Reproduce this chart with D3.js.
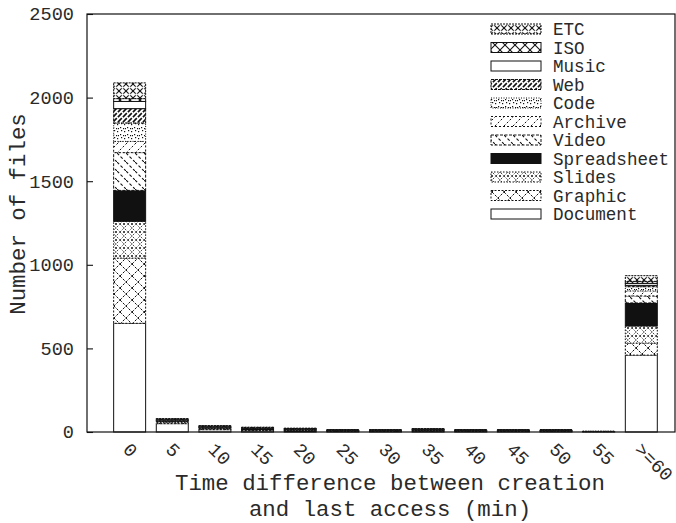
<!DOCTYPE html>
<html>
<head>
<meta charset="utf-8">
<script src="https://cdn.jsdelivr.net/npm/d3@7"></script>
<style>
html,body{margin:0;padding:0;background:#fff;}
text{font-family:"Liberation Mono","DejaVu Sans Mono",monospace;fill:#2a2a2a;}
</style>
</head>
<body>
<svg id="chart" width="676" height="523"></svg>
<script>
// ---- data ----
const buckets = ["0","5","10","15","20","25","30","35","40","45","50","55",">=60"];
const types = ["Document","Graphic","Slides","Spreadsheet","Video","Archive","Code","Web","Music","ISO","ETC"];
const Document    = [650, 50, 14, 8, 6, 4, 4, 5, 4, 4, 4, 2, 460];
const Graphic     = [390,  8,  5, 4, 3, 2, 2, 3, 2, 2, 2, 1,  72];
const Slides      = [220,  6,  4, 3, 3, 2, 2, 3, 2, 2, 2, 1, 102];
const Spreadsheet = [185,  4,  4, 3, 2, 1, 1, 2, 1, 1, 1, 0, 138];
const Video       = [226,  2,  2, 2, 2, 1, 1, 1, 1, 1, 1, 0,  42];
const Archive     = [ 67,  2,  2, 2, 1, 1, 1, 1, 1, 1, 1, 0,  30];
const Code        = [110,  3,  2, 2, 2, 1, 1, 1, 1, 1, 1, 1,  25];
const Web         = [ 86,  1,  1, 1, 1, 1, 1, 1, 1, 1, 1, 0,   8];
const Music       = [ 43,  1,  1, 1, 1, 0, 0, 1, 0, 0, 0, 0,  12];
const ISO         = [ 17,  0,  0, 0, 0, 0, 0, 0, 0, 0, 0, 0,  12];
const ETC         = [ 94,  3,  3, 3, 2, 1, 1, 2, 1, 1, 1, 0,  34];
const yTicks = [0, 500, 1000, 1500, 2000, 2500];
const series = {Document, Graphic, Slides, Spreadsheet, Video, Archive, Code, Web, Music, ISO, ETC};

// ---- layout ----
const svg = d3.select("#chart");
const L = 87, R = 675, T = 14, B = 432;
const x = d3.scaleLinear().domain([-1, 12.79]).range([L, R]);
const y = d3.scaleLinear().domain([0, 2500]).range([B, T]);
const barW = x(0.75) - x(0);

// ---- patterns ----
const defs = svg.append("defs");
function pat(id, size, draw){
  const p = defs.append("pattern").attr("id", id).attr("patternUnits","userSpaceOnUse")
    .attr("width", size).attr("height", size);
  p.append("rect").attr("width", size).attr("height", size).attr("fill", "#fff");
  draw(p, size);
}
function line(p, x1,y1,x2,y2, w, dash){
  const l = p.append("line").attr("x1",x1).attr("y1",y1).attr("x2",x2).attr("y2",y2)
    .attr("stroke","#111").attr("stroke-width",w);
  if (dash) l.attr("stroke-dasharray", dash);
}
pat("p-etc", 7, (p,s)=>{ line(p,0,0,s,s,1.1); line(p,0,s,s,0,1.1);
  p.append("circle").attr("cx",s/2).attr("cy",s/2).attr("r",1.2).attr("fill","#fff"); });
pat("p-iso", 10, (p,s)=>{ line(p,0,0,s,s,1.1); line(p,0,s,s,0,1.1); });
pat("p-web", 5, (p,s)=>{ line(p,-1,s+1,s+1,-1,1.6,"4,1.5"); line(p,-1,1,1,-1,1.6); line(p,s-1,s+1,s+1,s-1,1.6); });
pat("p-code", 7, (p,s)=>{
  [[1,1],[4,2],[2,4],[5,5],[6,2]].forEach(d=>p.append("rect").attr("x",d[0]).attr("y",d[1]).attr("width",1.2).attr("height",1.2).attr("fill","#111"));
});
pat("p-archive", 9, (p,s)=>{ line(p,0,s,s,0,1,"2,2"); });
pat("p-video", 9, (p,s)=>{ line(p,0,0,s,s,1.1,"3,2"); });
pat("p-slides", 8, (p,s)=>{ line(p,0,0,s,s,0.9,"1.2,1.2"); line(p,0,s,s,0,0.9,"1.2,1.2");
  p.append("circle").attr("cx",s/2).attr("cy",0).attr("r",1).attr("fill","#111");
  p.append("circle").attr("cx",s/2).attr("cy",s).attr("r",1).attr("fill","#111"); });
pat("p-graphic", 12, (p,s)=>{ line(p,0,0,s,s,1,"2.5,1.5"); line(p,0,s,s,0,1,"2.5,1.5"); });

const style = {
  Document:    {fill:"#fff", dash:null},
  Graphic:     {fill:"url(#p-graphic)", dash:"2,1.5"},
  Slides:      {fill:"url(#p-slides)", dash:"1.5,1.5"},
  Spreadsheet: {fill:"#111", dash:null},
  Video:       {fill:"url(#p-video)", dash:"3,1.5"},
  Archive:     {fill:"url(#p-archive)", dash:"2,2"},
  Code:        {fill:"url(#p-code)", dash:"1,1.5"},
  Web:         {fill:"url(#p-web)", dash:"3,1"},
  Music:       {fill:"#fff", dash:null},
  ISO:         {fill:"url(#p-iso)", dash:null},
  ETC:         {fill:"url(#p-etc)", dash:"2,1"}
};

// ---- data table + stack ----
const rows = buckets.map((b,i)=>{ const r = {bucket:b, idx:i}; types.forEach(t=>r[t]=series[t][i]); return r; });
const stacked = d3.stack().keys(types)(rows);

const gBars = svg.append("g");
stacked.forEach(layer=>{
  const st = style[layer.key];
  gBars.selectAll(null).data(layer.filter(d=>d[1]>d[0])).enter().append("rect")
    .attr("x", d=>x(d.data.idx) - barW/2)
    .attr("width", barW)
    .attr("y", d=>y(d[1]))
    .attr("height", d=>y(d[0]) - y(d[1]))
    .attr("fill", st.fill)
    .attr("stroke", "#111")
    .attr("stroke-width", 1)
    .attr("stroke-dasharray", st.dash);
});

// ---- frame & axes ----
svg.append("rect").attr("x",L).attr("y",T).attr("width",R-L).attr("height",B-T)
  .attr("fill","none").attr("stroke","#111").attr("stroke-width",1.2);

const yAxis = d3.axisLeft(y).tickValues(yTicks).tickSize(-6).tickPadding(13).tickFormat(d3.format("d"));
const gy = svg.append("g").attr("transform",`translate(${L},0)`).call(yAxis);
gy.select(".domain").remove();
gy.selectAll(".tick line").attr("stroke","#111").attr("stroke-width",1.1);
gy.selectAll(".tick text").attr("font-size","18.6px").attr("font-family","Liberation Mono").attr("fill","#2a2a2a");

// x tick labels (rotated)
const gx = svg.append("g");
gx.selectAll("text").data(buckets).enter().append("text")
  .attr("transform",(d,i)=>`translate(${x(i)-3},${446}) rotate(45)`)
  .attr("font-size","18.6px")
  .attr("dy","0.35em")
  .attr("text-anchor","start")
  .text(d=>d);

// axis titles
svg.append("text").attr("x",390).attr("y",490).attr("text-anchor","middle")
  .attr("font-size","22.4px").text("Time difference between creation");
svg.append("text").attr("x",390).attr("y",516).attr("text-anchor","middle")
  .attr("font-size","22.4px").text("and last access (min)");
svg.append("text").attr("transform","translate(25,214) rotate(-90)").attr("text-anchor","middle")
  .attr("font-size","22.4px").text("Number of files");

// ---- legend ----
const legendOrder = types.slice().reverse();
const lg = svg.append("g");
legendOrder.forEach((t,i)=>{
  const cy = 29 + i*18.5;
  const st = style[t];
  lg.append("rect").attr("x",491).attr("y",cy-5).attr("width",50).attr("height",10)
    .attr("fill",st.fill).attr("stroke","#111").attr("stroke-width",1)
    .attr("stroke-dasharray", st.dash);
  lg.append("text").attr("x",553).attr("y",cy).attr("dy","0.35em")
    .attr("font-size","17.6px").text(t);
});
</script>
</body>
</html>
